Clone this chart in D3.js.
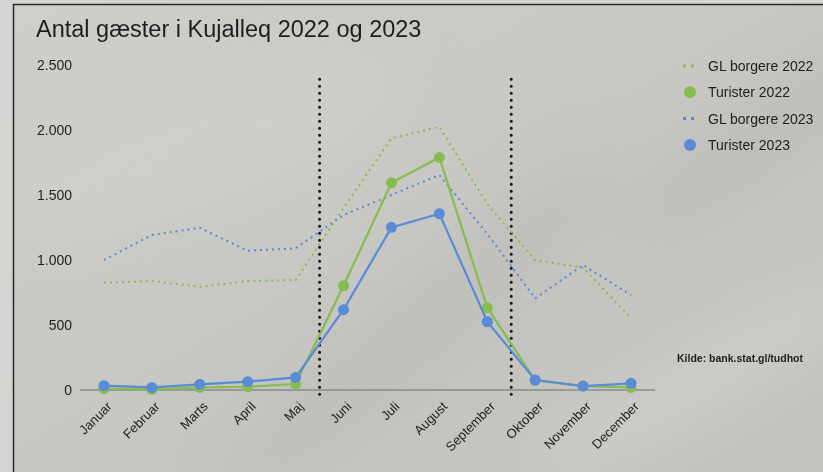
<!DOCTYPE html>
<html>
<head>
<meta charset="UTF-8">
<title>Antal gæster i Kujalleq 2022 og 2023</title>
<style>
    html, body { margin: 0; padding: 0; background: #d6d6d4; }
    svg { display: block; }
    text { font-family: "Liberation Sans", Arial, sans-serif; fill: #1e1e1e; }
</style>
</head>
<body>
<svg id="chart" width="823" height="472"></svg>
<script src="https://d3js.org/d3.v7.min.js"></script>
<script>
    // data
    const months = ["Januar", "Februar", "Marts", "April", "Maj", "Juni", "Juli", "August", "September", "Oktober", "November", "December"];
    const glBorgere2022 = [825, 838, 795, 838, 845, 1400, 1935, 2025, 1430, 1000, 940, 555];
    const turister2022 = [10, 5, 20, 25, 46, 802, 1594, 1789, 633, 75, 30, 20];
    const glBorgere2023 = [1000, 1192, 1248, 1071, 1090, 1346, 1500, 1654, 1200, 705, 961, 730];
    const turister2023 = [33, 20, 44, 64, 97, 618, 1251, 1356, 525, 77, 30, 51];
    const yTicks = [0, 500, 1000, 1500, 2000, 2500];
    const seasonBreaks = [["Maj", "Juni"], ["September", "Oktober"]];
    const legendItems = [
        { label: "GL borgere 2022", type: "dot", color: "#86bd4f" },
        { label: "Turister 2022", type: "circle", color: "#86bd4f" },
        { label: "GL borgere 2023", type: "dot", color: "#5a8bd6" },
        { label: "Turister 2023", type: "circle", color: "#5a8bd6" }
    ];

    const green = "#86bd4f";
    const blue = "#5a8bd6";

    const svg = d3.select("#chart");
    const W = 823, H = 472;

    // baggrund med ramme
    const defs = svg.append("defs");
    const bg = defs.append("linearGradient").attr("id", "bg")
        .attr("x1", "0").attr("y1", "0").attr("x2", "1").attr("y2", "1");
    bg.append("stop").attr("offset", "0%").attr("stop-color", "#cfcecb");
    bg.append("stop").attr("offset", "55%").attr("stop-color", "#c7c6c3");
    bg.append("stop").attr("offset", "100%").attr("stop-color", "#c3c2bf");
    defs.append("filter").attr("id", "blur")
        .attr("x", "-50%").attr("y", "-50%").attr("width", "200%").attr("height", "200%")
        .append("feGaussianBlur").attr("stdDeviation", 28);

    svg.append("rect").attr("width", W).attr("height", H).attr("fill", "#d5d5d3");
    svg.append("rect").attr("x", 13.5).attr("y", 4.5).attr("width", W).attr("height", H)
        .attr("fill", "url(#bg)");

    // svage diagonale striber i baggrunden
    const streaks = svg.append("g").attr("filter", "url(#blur)");
    streaks.append("ellipse").attr("cx", 420).attr("cy", 330).attr("rx", 260).attr("ry", 40)
        .attr("transform", "rotate(-40 420 330)").attr("fill", "#b6b5b2").attr("opacity", 0.45);
    streaks.append("ellipse").attr("cx", 760).attr("cy", 140).attr("rx", 160).attr("ry", 30)
        .attr("transform", "rotate(-35 760 140)").attr("fill", "#b3b2af").attr("opacity", 0.45);
    streaks.append("ellipse").attr("cx", 700).attr("cy", 380).attr("rx", 200).attr("ry", 30)
        .attr("transform", "rotate(-30 700 380)").attr("fill", "#d4d3d0").attr("opacity", 0.6);
    streaks.append("ellipse").attr("cx", 200).attr("cy", 150).attr("rx", 220).attr("ry", 60)
        .attr("transform", "rotate(-20 200 150)").attr("fill", "#d2d1ce").attr("opacity", 0.5);

    svg.append("rect").attr("x", 13.5).attr("y", 4.5).attr("width", W).attr("height", H)
        .attr("fill", "none").attr("stroke", "#2a2a2a").attr("stroke-width", 1.5);

    // titel
    svg.append("text").attr("x", 36).attr("y", 37)
        .style("font-size", "23.5px")
        .text("Antal gæster i Kujalleq 2022 og 2023");

    // skalaer
    const x = d3.scalePoint().domain(months).range([80, 655]).padding(0.5);
    const y = d3.scaleLinear().domain([0, 2500]).range([390, 65]);

    // y-akse (kun tekst)
    const yAxis = svg.append("g").attr("transform", "translate(72,0)")
        .call(d3.axisLeft(y).tickValues(yTicks).tickSize(0).tickPadding(0)
            .tickFormat(d => d3.format(",")(d).replace(/,/g, ".")));
    yAxis.select(".domain").remove();
    yAxis.selectAll("text").style("font-size", "14px")
        .style("font-family", "Liberation Sans, Arial, sans-serif").attr("fill", "#1e1e1e");

    // x-akse
    const xAxis = svg.append("g").attr("transform", `translate(0,${y(0)})`)
        .call(d3.axisBottom(x).tickSize(0).tickPadding(0));
    xAxis.select(".domain").attr("d", "M80,0H655").attr("stroke", "#8a8a88").attr("stroke-width", 1.5);
    xAxis.selectAll("text")
        .style("font-size", "13px")
        .style("font-family", "Liberation Sans, Arial, sans-serif")
        .attr("fill", "#1e1e1e")
        .attr("text-anchor", "end")
        .attr("dy", "0.35em")
        .attr("transform", "translate(5,14) rotate(-45)");

    // stiplede lodrette linjer for sæsonen
    seasonBreaks.forEach(([a, b]) => {
        const xm = (x(a) + x(b)) / 2;
        svg.append("line")
            .attr("x1", xm).attr("x2", xm)
            .attr("y1", y(2390)).attr("y2", y(0) + 5)
            .attr("stroke", "#111").attr("stroke-width", 3)
            .attr("stroke-linecap", "round")
            .attr("stroke-dasharray", "0,7");
    });

    const line = d3.line().x((d, i) => x(months[i])).y(d => y(d));

    // GL borgere (prikket)
    function dotted(values, color) {
        svg.append("path").datum(values)
            .attr("fill", "none").attr("stroke", color).attr("stroke-width", 2)
            .attr("stroke-dasharray", "2,4")
            .attr("d", line);
    }
    dotted(glBorgere2022, green);
    dotted(glBorgere2023, blue);

    // turister (fuld linje med punkter)
    function solid(values, color) {
        svg.append("path").datum(values)
            .attr("fill", "none").attr("stroke", color).attr("stroke-width", 2.2)
            .attr("d", line);
        svg.append("g").selectAll("circle").data(values).join("circle")
            .attr("cx", (d, i) => x(months[i]))
            .attr("cy", d => y(d))
            .attr("r", 5.5)
            .attr("fill", color);
    }
    solid(turister2022, green);
    solid(turister2023, blue);

    // legende
    const legend = svg.append("g").attr("transform", "translate(682,66)");
    legendItems.forEach((item, i) => {
        const g = legend.append("g").attr("transform", `translate(0,${i * 26.3})`);
        if (item.type === "dot") {
            g.append("line").attr("x1", 1).attr("x2", 15).attr("y1", 0).attr("y2", 0)
                .attr("stroke", item.color).attr("stroke-width", 3)
                .attr("stroke-dasharray", "3,5");
        } else {
            g.append("circle").attr("cx", 8).attr("cy", 0).attr("r", 6).attr("fill", item.color);
        }
        g.append("text").attr("x", 26).attr("y", 0).attr("dy", "0.35em")
            .style("font-size", "14px").text(item.label);
    });

    // kilde
    svg.append("text").attr("x", 677).attr("y", 362)
        .style("font-size", "10.5px").style("font-weight", "bold")
        .text("Kilde: bank.stat.gl/tudhot");
</script>
</body>
</html>
